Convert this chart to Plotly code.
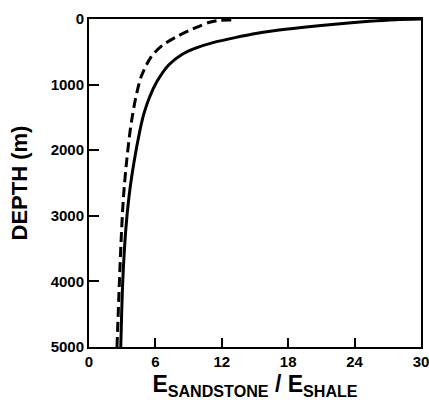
import plotly.graph_objects as go

# Modulus ratio E_sandstone / E_shale versus burial depth
solid_depth = [5000, 4000, 3200, 2700, 2200, 1700, 1450, 1200, 950, 700, 540, 440,
               360, 280, 230, 180, 130, 80, 35, 10, 0]
solid_ratio = [2.87, 3.05, 3.33, 3.62, 4.05, 4.6, 4.95, 5.45, 6.15, 7.2, 8.4, 9.7,
               11.2, 13.3, 14.8, 16.7, 19.2, 22.2, 25.3, 27.7, 30.0]

dashed_depth = [5000, 4000, 3200, 2700, 2200, 1700, 1450, 1220, 885, 580, 407,
                254, 127, 50, 20, 17]
dashed_ratio = [2.53, 2.75, 2.95, 3.12, 3.38, 3.72, 3.95, 4.2, 4.7, 5.6, 6.6,
                8.1, 9.7, 10.9, 11.8, 13.3]

x_ticks = [0, 6, 12, 18, 24, 30]
y_ticks = [0, 1000, 2000, 3000, 4000, 5000]

FONT = "Liberation Sans, Arial, sans-serif"

fig = go.Figure()
fig.add_trace(go.Scatter(x=solid_ratio, y=solid_depth, mode="lines",
                         line=dict(color="black", width=3, shape="spline", smoothing=0.8),
                         showlegend=False))
fig.add_trace(go.Scatter(x=dashed_ratio, y=dashed_depth, mode="lines",
                         line=dict(color="black", width=3, dash="10px,5px",
                                   shape="spline", smoothing=0.8),
                         showlegend=False))

fig.update_layout(
    width=429, height=400,
    margin=dict(l=89, r=8, t=19, b=53),
    paper_bgcolor="white", plot_bgcolor="white",
    font=dict(family=FONT, color="black", size=15),
    xaxis=dict(range=[0, 30], tickvals=x_ticks, ticktext=[f"<b>{v}</b>" for v in x_ticks],
               ticks="inside", ticklen=9, tickwidth=1.5, tickcolor="black",
               showline=True, linecolor="black", linewidth=2, mirror=True,
               showgrid=False, zeroline=False, automargin=False,
               ticklabeloverflow="allow",
               title=dict(text="<b>E<sub>SANDSTONE</sub> / E<sub>SHALE</sub></b>",
                          font=dict(size=23, family=FONT), standoff=14)),
    yaxis=dict(range=[5000, 0], tickvals=y_ticks, ticktext=[f"<b>{v}</b>" for v in y_ticks],
               ticks="inside", ticklen=10, tickwidth=1.5, tickcolor="black",
               showline=True, linecolor="black", linewidth=2, mirror=True,
               showgrid=False, zeroline=False, automargin=False,
               ticklabeloverflow="allow",
               title=dict(text="<b>DEPTH (m)</b>", font=dict(size=22, family=FONT),
                          standoff=17)),
)

fig.write_html("out.html")
